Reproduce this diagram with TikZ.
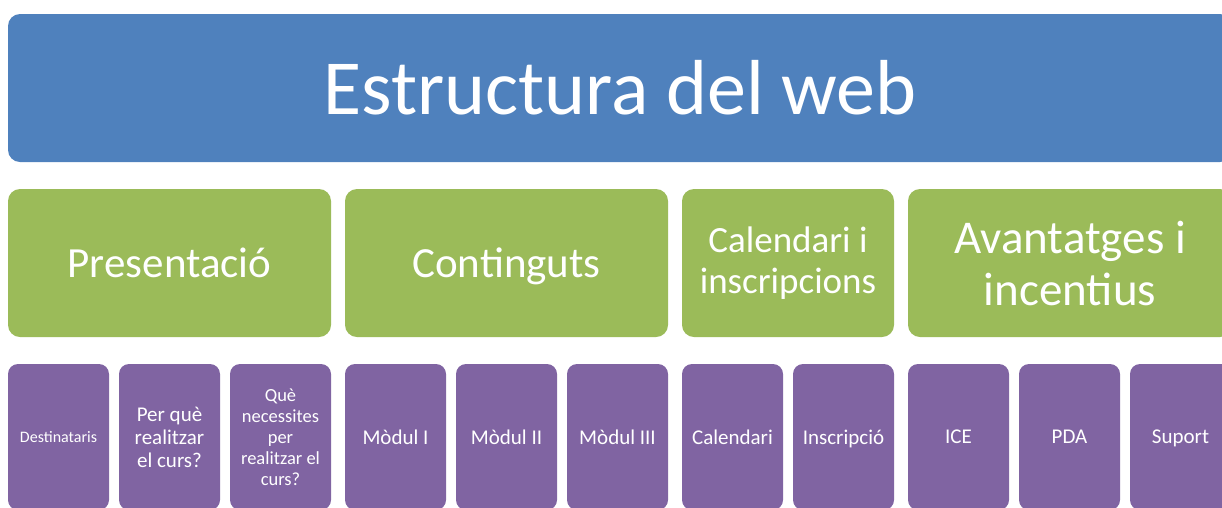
\documentclass[tikz,border=0pt]{standalone}
\usepackage{fontspec}
\setmainfont{Carlito}
\usetikzlibrary{positioning}

\definecolor{webblue}{HTML}{4F81BD}
\definecolor{webgreen}{HTML}{9BBB59}
\definecolor{webpurple}{HTML}{8064A2}

\tikzset{
  banner/.style={fill=webblue, text=white, rounded corners=12pt, inner sep=0pt,
    outer sep=0pt, minimum width=1224pt, minimum height=148pt, anchor=north west,
    font=\fontsize{78}{90}\selectfont},
  section/.style={fill=webgreen, text=white, rounded corners=12pt, inner sep=0pt,
    outer sep=0pt, minimum height=148pt, align=center,
    font=\fontsize{43}{52}\selectfont},
  subpage/.style={fill=webpurple, text=white, rounded corners=10pt, inner sep=0pt,
    outer sep=0pt, minimum width=101pt, minimum height=146pt, align=center,
    font=\fontsize{21}{23}\selectfont},
  nodepth/.style={text depth=0pt},
}

\begin{document}
\begin{tikzpicture}[x=1pt, y=1pt]

  \useasboundingbox (0,0) rectangle (1222,-507);
  \clip (0,0) rectangle (1222,-507);

  % title
  \node[banner] (web) at (8,-14) {Estructura del web};

  % sections
  \node[section, minimum width=323pt, anchor=north west] (pres) at (8,-189) {Presentació};
  \node[section, nodepth, minimum width=323pt] (cont) [right=14pt of pres] {Continguts};
  \node[section, minimum width=212pt, font=\fontsize{37}{41}\selectfont] (cal) [right=14pt of cont] {Calendari i\\inscripcions};
  \node[section, minimum width=324pt, font=\fontsize{47}{52}\selectfont] (avt) [right=14pt of cal] {Avantatges i\\incentius};

  % pages
  \node[subpage, anchor=north west, font=\fontsize{16}{19}\selectfont] (dest) at (8,-364) {Destinataris};
  \node[subpage] (perque) [right=10pt of dest] {Per què\\realitzar\\el curs?};
  \node[subpage, font=\fontsize{18.5}{21}\selectfont] (neces) [right=10pt of perque] {Què\\necessites\\per\\realitzar el\\curs?};

  \node[subpage] (mod1) [right=14pt of neces] {Mòdul I};
  \node[subpage] (mod2) [right=10pt of mod1] {Mòdul II};
  \node[subpage] (mod3) [right=10pt of mod2] {Mòdul III};

  \node[subpage] (calend) [right=14pt of mod3] {Calendari};
  \node[subpage, nodepth] (inscr) [right=10pt of calend] {Inscripció};

  \node[subpage] (ice) [right=14pt of inscr] {ICE};
  \node[subpage] (pda) [right=10pt of ice] {PDA};
  \node[subpage, nodepth] (suport) [right=10pt of pda] {Suport};

\end{tikzpicture}
\end{document}
